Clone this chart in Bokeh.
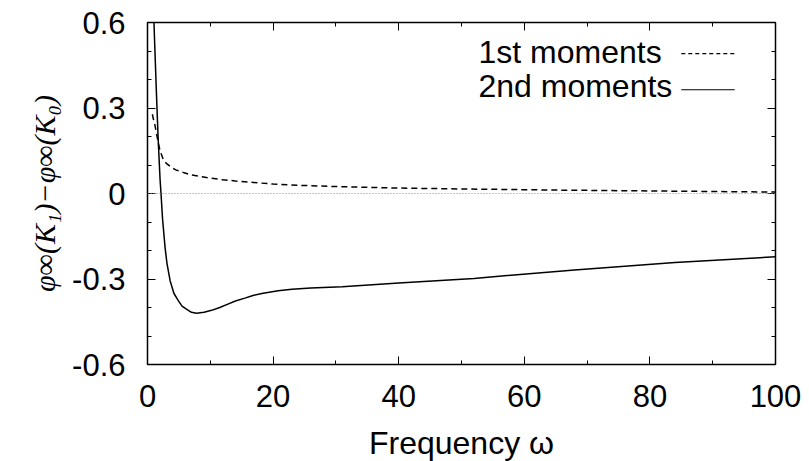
from bokeh.plotting import figure
from bokeh.models import Range1d, FixedTicker, LinearAxis, Span, Label, CustomLabelingPolicy
from bokeh.embed import file_html
from bokeh.resources import INLINE

# ---- data ----
omega_1st = [0.77, 1.0, 1.2, 1.7, 2.0, 2.5, 3.0, 3.85, 4.5, 5.7, 7.0, 9.4, 12, 14, 20, 25,
             30.6, 40, 50, 65, 80, 90, 100]
moment_1st = [0.278, 0.255, 0.238, 0.179, 0.15, 0.12, 0.106, 0.091, 0.083, 0.074, 0.065,
              0.056, 0.048, 0.044, 0.033, 0.028, 0.024, 0.019, 0.016, 0.012, 0.009, 0.007,
              0.005]

omega_2nd = [0.85, 1.03, 1.2, 1.46, 1.7, 2.0, 2.15, 2.4, 2.8, 3.1, 3.6, 4.2, 4.9, 5.5, 6.2,
             7.0, 7.8, 9.0, 10.2, 11.5, 12.8, 14, 15.5, 16.8, 18.2, 20.8, 23, 26, 31, 40, 52,
             68, 84, 100]
moment_2nd = [0.72, 0.6, 0.49, 0.33, 0.19, 0.05, 0.0, -0.09, -0.19, -0.245, -0.306, -0.35,
              -0.376, -0.395, -0.406, -0.417, -0.42, -0.417, -0.41, -0.4, -0.388, -0.377,
              -0.367, -0.358, -0.351, -0.341, -0.336, -0.332, -0.327, -0.314, -0.298, -0.268,
              -0.242, -0.222]

x_major = [0, 20, 40, 60, 80, 100]
x_minor = [10, 30, 50, 70, 90]
x_labels = ["0", "20", "40", "60", "80", "100"]
y_major = [-0.6, -0.3, 0.0, 0.3, 0.6]
y_minor = [-0.5, -0.4, -0.2, -0.1, 0.1, 0.2, 0.4, 0.5]
y_labels = ["-0.6", "-0.3", "0", "0.3", "0.6"]

series_names = ["1st moments", "2nd moments"]

# ---- figure ----
p = figure(frame_width=628, frame_height=342, output_backend="svg", toolbar_location=None,
           x_range=Range1d(0, 100), y_range=Range1d(-0.6, 0.6),
           min_border_left=147, min_border_top=22, min_border_right=26, min_border_bottom=5)
p.background_fill_color = "white"
p.border_fill_color = "white"
p.outline_line_color = "black"
p.outline_line_width = 1.5
p.xgrid.visible = False
p.ygrid.visible = False

TICK_FONT = "31px"
xt = FixedTicker(ticks=x_major, minor_ticks=x_minor)
yt = FixedTicker(ticks=y_major, minor_ticks=y_minor)

xa = p.xaxis[0]
xa.ticker = xt
xa.major_label_overrides = {v: s for v, s in zip(x_major, x_labels)}
xa.axis_label = "Frequency ω"
ya = p.yaxis[0]
ya.ticker = yt
ya.major_label_overrides = {v: s for v, s in zip(y_major, y_labels)}
ya.axis_label = "φ∞(K₁)−φ∞(K₀)"

for ax in (xa, ya):
    ax.axis_line_color = None
    ax.major_tick_in = 8
    ax.major_tick_out = 0
    ax.minor_tick_in = 4
    ax.minor_tick_out = 0
    ax.major_tick_line_color = "black"
    ax.minor_tick_line_color = "black"
    ax.major_label_text_font = "Liberation Sans"
    ax.major_label_text_font_size = TICK_FONT
    ax.major_label_text_color = "black"
    ax.axis_label_text_color = "black"

xa.major_label_standoff = 20
xa.axis_label_text_font = "Liberation Sans"
xa.axis_label_text_font_style = "normal"
xa.axis_label_text_font_size = "32px"
xa.axis_label_standoff = 15

ya.major_label_standoff = 22
ya.axis_label_text_font = "Liberation Serif"
ya.axis_label_text_font_style = "italic"
ya.axis_label_text_font_size = "30px"
ya.axis_label_standoff = 8

# mirrored ticks on top and right (no labels)
no_labels = CustomLabelingPolicy(code="""
    for (const i of indices) indices.unset(i)
    return indices
""")
for side, tk in (("above", xt), ("right", yt)):
    ax = LinearAxis(ticker=tk, axis_line_color=None, major_tick_in=8, major_tick_out=0,
                    minor_tick_in=4, minor_tick_out=0, major_label_policy=no_labels,
                    major_label_standoff=0, major_tick_line_color="black",
                    minor_tick_line_color="black")
    p.add_layout(ax, side)

# zero axis
p.add_layout(Span(location=0, dimension="width", line_color="#888888", line_width=1,
                  line_dash="1 2"))

# curves
p.line(omega_1st, moment_1st, line_color="black", line_width=1.5, line_dash="6 4")
p.line(omega_2nd, moment_2nd, line_color="black", line_width=1.5)

# key (gnuplot style: text then sample)
key_text_x = 52.7
key_text_y = [0.496, 0.377]
key_sample_x = (85.0, 93.5)
key_sample_y = [0.491, 0.364]
key_dash = ["4 3", "solid"]
for name, ty, sy, dash in zip(series_names, key_text_y, key_sample_y, key_dash):
    p.add_layout(Label(x=key_text_x, y=ty, text=name, text_font="Liberation Sans",
                       text_font_size="32px", text_color="black",
                       text_baseline="alphabetic", text_align="left"))
    p.segment(x0=[key_sample_x[0]], y0=[sy], x1=[key_sample_x[1]], y1=[sy],
              line_color="black", line_width=1.2, line_dash=dash)

open("out.html", "w").write(file_html(p, INLINE))
